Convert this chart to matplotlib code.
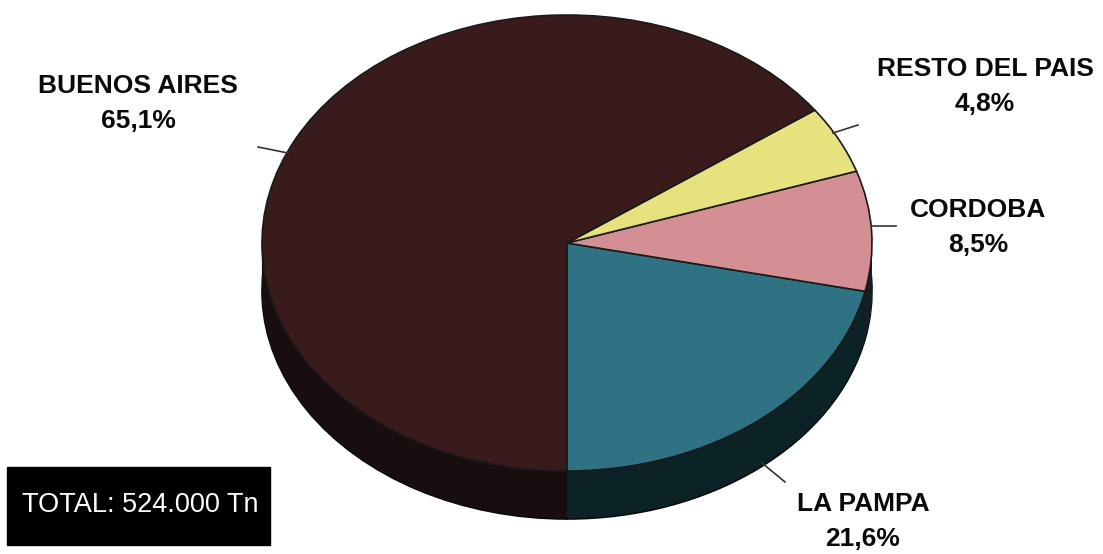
import matplotlib.pyplot as plt
import numpy as np

# data
provincias = ['LA PAMPA', 'CORDOBA', 'RESTO DEL PAIS', 'BUENOS AIRES']
porcentajes = [21.6, 8.5, 4.8, 65.1]
etiquetas = ['21,6%', '8,5%', '4,8%', '65,1%']
colores = ['#2f7284', '#d48f95', '#e8e27e', '#3a1b1b']
colores_lado = ['#0b2327', '#162024', '#181814', '#190e0f']
total = 'TOTAL: 524.000 Tn'

W, H = 1103, 554
fig = plt.figure(figsize=(W / 100, H / 100), dpi=100, facecolor='white')
ax = fig.add_axes([0, 0, 1, 1])

# pixel geometry of the ellipse
cx, cy = 567, 243
rx, ry = 305, 228
depth = 48

# side (3D depth) made of stacked dark pies
ax.pie(porcentajes, colors=colores_lado, startangle=270, counterclock=True,
       center=(0, -depth / ry), radius=1,
       wedgeprops=dict(linewidth=1.2, edgecolor='#0a0a0a'))
for d in np.linspace(depth - 1, 0, 80):
    ax.pie(porcentajes, colors=colores_lado, startangle=270, counterclock=True,
           center=(0, -d / ry), radius=1,
           wedgeprops=dict(linewidth=0, edgecolor='none'))

# top face
ax.pie(porcentajes, colors=colores, startangle=270, counterclock=True,
       center=(0, 0), radius=1,
       wedgeprops=dict(linewidth=1.2, edgecolor='#1a1a1a'))

ax.set_aspect('auto')
ax.set_xlim(-cx / rx, (W - cx) / rx)
ax.set_ylim(-(H - cy) / ry, cy / ry)
ax.axis('off')


def px(x, y):
    return x / W, 1 - y / H


# leader lines (figure pixels)
lineas = [((258, 147), (288, 153)),
          ((833, 133), (858, 125)),
          ((872, 226), (896, 226)),
          ((762, 463), (785, 482))]
for (x0, y0), (x1, y1) in lineas:
    fig.add_artist(plt.Line2D([x0 / W, x1 / W], [1 - y0 / H, 1 - y1 / H],
                              color='#333333', linewidth=1.2))

# labels
pos = {'BUENOS AIRES': (138, 86), 'RESTO DEL PAIS': (985, 69),
       'CORDOBA': (978, 210), 'LA PAMPA': (863, 504)}
for nombre, et in zip(provincias, etiquetas):
    x, y = pos[nombre]
    fig.text(*px(x, y), nombre, ha='center', va='center', fontsize=19,
             fontweight='bold', family='Liberation Sans', color='#0a0a0a')
    fig.text(*px(x, y + 35), et, ha='center', va='center', fontsize=19,
             fontweight='bold', family='Liberation Sans', color='#0a0a0a')

# total box
fig.add_artist(plt.Rectangle(px(7, 545), 263 / W, 78 / H, color='black'))
fig.text(*px(140, 505), total, ha='center', va='center', fontsize=19.5,
         family='Liberation Sans', color='white')

plt.savefig('out.png', dpi=100, facecolor='white')
